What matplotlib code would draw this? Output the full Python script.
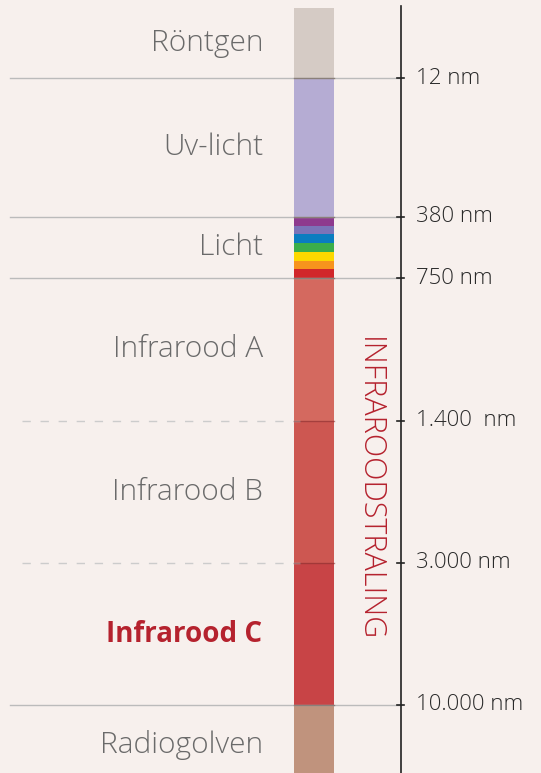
import matplotlib
matplotlib.use("Agg")
import matplotlib.pyplot as plt
from matplotlib import font_manager

# band edges on the chart's (non-linear) display scale, top to bottom
# (the radio band runs on past the bottom of the picture)
band_edges = [8, 78, 217, 278, 421, 563, 705, 785]
band_names = ["Röntgen", "Uv-licht", "Licht", "Infrarood A", "Infrarood B", "Infrarood C", "Radiogolven"]
band_colors = ["#d5cbc5", "#b5acd3", None, "#d4695f", "#cd5751", "#c84446", "#c0937d"]

# visible light split into rainbow strips
rainbow = ["#8e3a8e", "#7b73b8", "#0a7dc0", "#3bae4a", "#fcd800", "#f7941d", "#d1262a"]

boundary_labels = ["12 nm", "380 nm", "750 nm", "1.400  nm", "3.000 nm", "10.000 nm"]
dashed = [False, False, False, True, True, False]

bg = "#f7f0ed"
names = {f.name for f in font_manager.fontManager.ttflist}
family = "Open Sans" if "Open Sans" in names else "DejaVu Sans"

fig = plt.figure(figsize=(5.41, 7.73), dpi=100, facecolor=bg)
ax = fig.add_axes([0, 0, 1, 1])
ax.set_facecolor(bg)
ax.set_xlim(0, 541)
ax.set_ylim(773, 0)
ax.axis("off")

bar_x, bar_w = 294, 40

for i, name in enumerate(band_names):
    top, bottom = band_edges[i], band_edges[i + 1]
    if band_colors[i] is None:
        h = (bottom - top) / len(rainbow)
        for j, c in enumerate(rainbow):
            ax.bar(bar_x, h, bottom=top + j * h, width=bar_w, align="edge", color=c, linewidth=0)
    else:
        ax.bar(bar_x, bottom - top, bottom=top, width=bar_w, align="edge", color=band_colors[i], linewidth=0)
    mid = (top + bottom) / 2
    if name == "Infrarood C":
        ax.text(262, mid, name, ha="right", va="center", fontsize=20, color="#b5222e",
                fontweight="bold", family=family)
    else:
        ax.text(263, mid, name, ha="right", va="center", fontsize=21.5, color="#6a6a6a",
                fontweight=300, family=family)

# boundary lines and labels
for k, lab in enumerate(boundary_labels):
    y = band_edges[k + 1]
    if dashed[k]:
        ax.plot([22, 300], [y, y], color="#cccccc", lw=1, ls=(0, (6, 7)))
        ax.plot([bar_x, bar_x + bar_w], [y, y], color="#8a3030", lw=1, alpha=0.6)
    else:
        ax.plot([10, 401], [y, y], color="#bbbbbb", lw=1)
        ax.plot([bar_x, bar_x + bar_w], [y, y], color="#6a5a50", lw=1, alpha=0.6)
    ax.plot([397, 404], [y, y], color="#222222", lw=1.2)
    ax.text(416, y, lab, ha="left", va="center", fontsize=16, color="#2a2a2a",
            fontweight=300, family=family)

# right axis line
ax.plot([401, 401], [6, 773], color="#222222", lw=1.2)

ax.text(369, 489, "INFRAROODSTRALING", rotation=-90, ha="center", va="center",
        fontsize=22, color="#b5222e", fontweight=300, family=family)

fig.savefig("out.png", dpi=100, facecolor=bg)
